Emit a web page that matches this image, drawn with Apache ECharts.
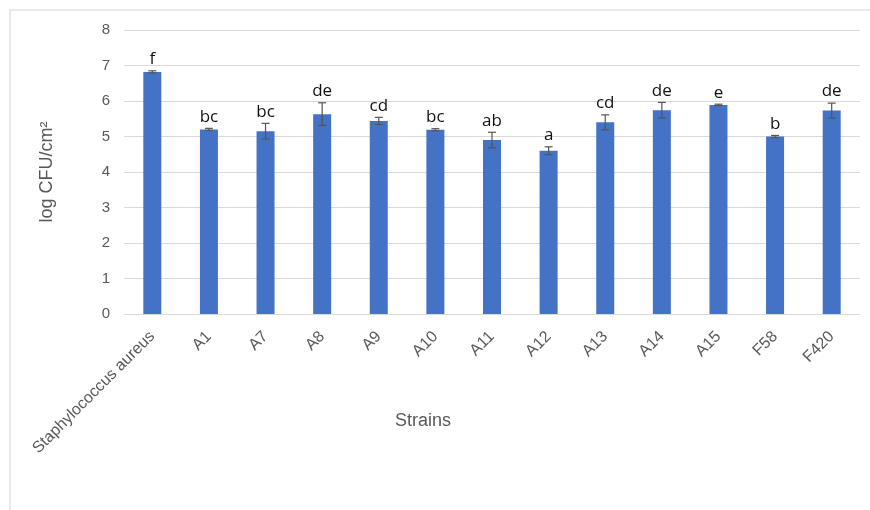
<!DOCTYPE html>
<html>
<head>
<meta charset="utf-8">
<script src="https://cdn.jsdelivr.net/npm/echarts@6/dist/echarts.min.js"></script>
<style>
  html, body { margin: 0; padding: 0; background: #fff; }
  #chart { width: 870px; height: 510px; }
</style>
</head>
<body>
<div id="chart"></div>
<script>
// Strains tested and mean log CFU/cm² with standard deviation and significance groups
const strains = ['Staphylococcus aureus', 'A1', 'A7', 'A8', 'A9', 'A10', 'A11', 'A12', 'A13', 'A14', 'A15', 'F58', 'F420'];
const meanLog = [6.82, 5.20, 5.15, 5.63, 5.44, 5.19, 4.90, 4.60, 5.40, 5.74, 5.89, 5.00, 5.73];
const stdDev = [0.03, 0.03, 0.22, 0.32, 0.10, 0.03, 0.22, 0.11, 0.21, 0.22, 0.02, 0.03, 0.21];
const groups = ['f', 'bc', 'bc', 'de', 'cd', 'bc', 'ab', 'a', 'cd', 'de', 'e', 'b', 'de'];
const yTicks = [0, 1, 2, 3, 4, 5, 6, 7, 8];
const xTitle = 'Strains';
const yTitle = 'log CFU/cm²';

const errData = strains.map((s, i) => [i, meanLog[i] - stdDev[i], meanLog[i] + stdDev[i], groups[i]]);

const chart = echarts.init(document.getElementById('chart'), null, { renderer: 'canvas' });

chart.setOption({
  animation: false,
  backgroundColor: '#ffffff',
  graphic: [
    {
      // light frame around the chart area
      type: 'polyline',
      silent: true,
      shape: { points: [[10, 510], [10, 10], [870, 10]] },
      style: { stroke: '#e3e3e3', lineWidth: 1.5, fill: null }
    },
    {
      // horizontal axis title, centred under the labels
      type: 'text',
      silent: true,
      left: 395, top: 412,
      style: { text: xTitle, fill: '#595959', fontSize: 18, fontFamily: 'Liberation Sans' }
    }
  ],
  grid: { left: 124, right: 10, top: 30, bottom: 196 },
  xAxis: {
    type: 'category',
    data: strains,
    axisLine: { lineStyle: { color: '#d9d9d9' } },
    axisTick: { show: false },
    axisLabel: {
      rotate: 45, interval: 0, margin: 20,
      color: '#595959', fontSize: 16, fontFamily: 'Liberation Sans'
    }
  },
  yAxis: {
    type: 'value',
    min: yTicks[0], max: yTicks[yTicks.length - 1], interval: 1,
    name: yTitle,
    nameLocation: 'middle',
    nameGap: 68,
    nameRotate: 90,
    nameTextStyle: { color: '#595959', fontSize: 18, fontFamily: 'Liberation Sans' },
    axisLine: { show: false },
    axisTick: { show: false },
    axisLabel: { color: '#595959', fontSize: 15, fontFamily: 'Liberation Sans', margin: 14 },
    splitLine: { lineStyle: { color: '#d9d9d9', width: 1 } }
  },
  series: [
    {
      type: 'bar',
      data: meanLog,
      barWidth: 18,
      itemStyle: { color: '#4472C4' }
    },
    {
      type: 'custom',
      data: errData,
      z: 10,
      renderItem: function (params, api) {
        const x = api.coord([api.value(0), 0])[0];
        const lo = api.coord([api.value(0), api.value(1)])[1];
        const hi = api.coord([api.value(0), api.value(2)])[1];
        const cap = 4;
        const lineStyle = { stroke: '#555555', lineWidth: 1.2 };
        return {
          type: 'group',
          children: [
            { type: 'line', shape: { x1: x, y1: lo, x2: x, y2: hi }, style: lineStyle },
            { type: 'line', shape: { x1: x - cap, y1: hi, x2: x + cap, y2: hi }, style: lineStyle },
            { type: 'line', shape: { x1: x - cap, y1: lo, x2: x + cap, y2: lo }, style: lineStyle },
            {
              type: 'text',
              style: {
                text: api.value(3),
                x: x, y: hi - 3,
                align: 'center', verticalAlign: 'bottom',
                fill: '#111111', fontSize: 17, fontFamily: 'Open Sans'
              }
            }
          ]
        };
      }
    }
  ]
});
</script>
</body>
</html>
